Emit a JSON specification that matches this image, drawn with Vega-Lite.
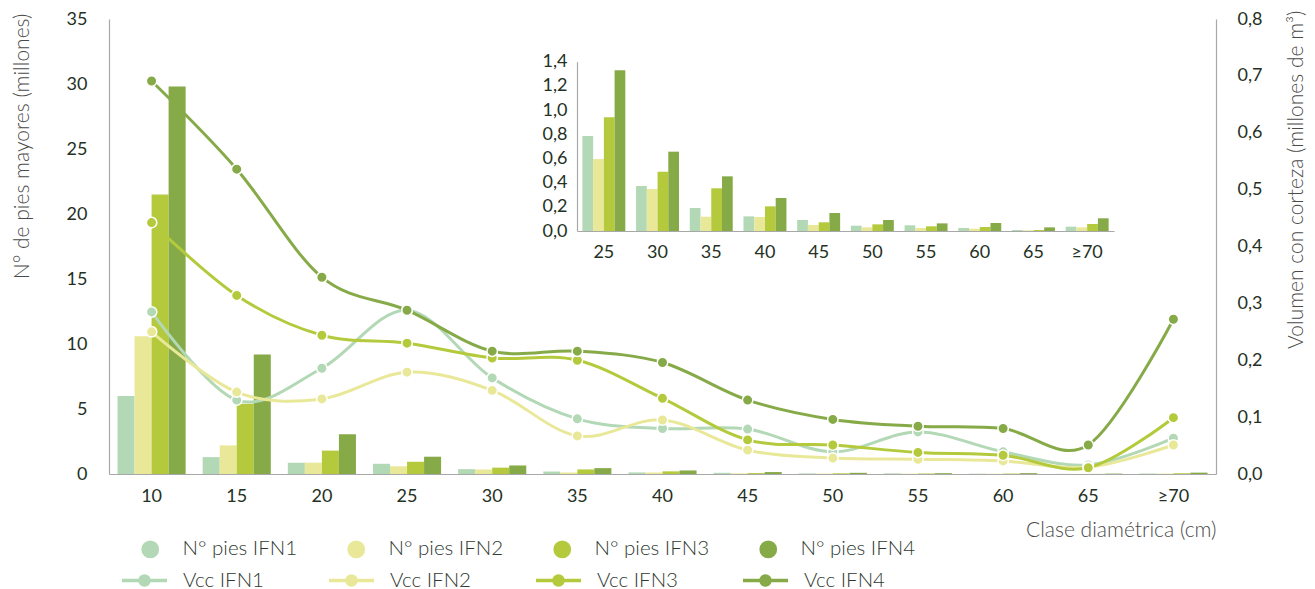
{
  "$schema": "https://vega.github.io/schema/vega-lite/v6.json",
  "width": 1107,
  "height": 455,
  "autosize": {"type": "none"},
  "padding": {"left": 109, "top": 19, "right": 99, "bottom": 115},
  "background": "white",
  "config": {
    "view": {"stroke": null},
    "font": "Lato",
    "axis": {
      "grid": false,
      "ticks": false,
      "domainColor": "#a8a8a8",
      "domainWidth": 1.2,
      "labelFont": "Lato",
      "labelFontSize": 18,
      "labelColor": "#243124",
      "titleFont": "Lato",
      "titleFontSize": 21,
      "titleFontWeight": 300,
      "titleColor": "#4a4a4a"
    },
    "legend": {
      "labelFont": "Lato",
      "labelFontSize": 20.5,
      "labelFontWeight": 300,
      "labelColor": "#2f3a2f",
      "padding": 0
    }
  },
  "datasets": {
    "d": [
      {"c": "10", "s": "IFN1", "pies": 6.0, "vcc": 0.285},
      {"c": "10", "s": "IFN2", "pies": 10.6, "vcc": 0.250},
      {"c": "10", "s": "IFN3", "pies": 21.5, "vcc": 0.442},
      {"c": "10", "s": "IFN4", "pies": 29.8, "vcc": 0.691},
      {"c": "15", "s": "IFN1", "pies": 1.3, "vcc": 0.130},
      {"c": "15", "s": "IFN2", "pies": 2.2, "vcc": 0.144},
      {"c": "15", "s": "IFN3", "pies": 5.4, "vcc": 0.314},
      {"c": "15", "s": "IFN4", "pies": 9.2, "vcc": 0.536},
      {"c": "20", "s": "IFN1", "pies": 0.87, "vcc": 0.186},
      {"c": "20", "s": "IFN2", "pies": 0.87, "vcc": 0.132},
      {"c": "20", "s": "IFN3", "pies": 1.8, "vcc": 0.244},
      {"c": "20", "s": "IFN4", "pies": 3.05, "vcc": 0.346},
      {"c": "25", "s": "IFN1", "pies": 0.785, "vcc": 0.288},
      {"c": "25", "s": "IFN2", "pies": 0.595, "vcc": 0.179},
      {"c": "25", "s": "IFN3", "pies": 0.94, "vcc": 0.230},
      {"c": "25", "s": "IFN4", "pies": 1.33, "vcc": 0.288},
      {"c": "30", "s": "IFN1", "pies": 0.372, "vcc": 0.169},
      {"c": "30", "s": "IFN2", "pies": 0.347, "vcc": 0.147},
      {"c": "30", "s": "IFN3", "pies": 0.49, "vcc": 0.204},
      {"c": "30", "s": "IFN4", "pies": 0.656, "vcc": 0.216},
      {"c": "35", "s": "IFN1", "pies": 0.19, "vcc": 0.097},
      {"c": "35", "s": "IFN2", "pies": 0.118, "vcc": 0.067},
      {"c": "35", "s": "IFN3", "pies": 0.353, "vcc": 0.200},
      {"c": "35", "s": "IFN4", "pies": 0.452, "vcc": 0.216},
      {"c": "40", "s": "IFN1", "pies": 0.121, "vcc": 0.080},
      {"c": "40", "s": "IFN2", "pies": 0.116, "vcc": 0.095},
      {"c": "40", "s": "IFN3", "pies": 0.204, "vcc": 0.133},
      {"c": "40", "s": "IFN4", "pies": 0.273, "vcc": 0.196},
      {"c": "45", "s": "IFN1", "pies": 0.091, "vcc": 0.079},
      {"c": "45", "s": "IFN2", "pies": 0.05, "vcc": 0.042},
      {"c": "45", "s": "IFN3", "pies": 0.072, "vcc": 0.060},
      {"c": "45", "s": "IFN4", "pies": 0.149, "vcc": 0.130},
      {"c": "50", "s": "IFN1", "pies": 0.044, "vcc": 0.039},
      {"c": "50", "s": "IFN2", "pies": 0.03, "vcc": 0.028},
      {"c": "50", "s": "IFN3", "pies": 0.055, "vcc": 0.051},
      {"c": "50", "s": "IFN4", "pies": 0.091, "vcc": 0.096},
      {"c": "55", "s": "IFN1", "pies": 0.047, "vcc": 0.074},
      {"c": "55", "s": "IFN2", "pies": 0.025, "vcc": 0.026},
      {"c": "55", "s": "IFN3", "pies": 0.039, "vcc": 0.038},
      {"c": "55", "s": "IFN4", "pies": 0.063, "vcc": 0.084},
      {"c": "60", "s": "IFN1", "pies": 0.025, "vcc": 0.039},
      {"c": "60", "s": "IFN2", "pies": 0.019, "vcc": 0.023},
      {"c": "60", "s": "IFN3", "pies": 0.033, "vcc": 0.033},
      {"c": "60", "s": "IFN4", "pies": 0.066, "vcc": 0.080},
      {"c": "65", "s": "IFN1", "pies": 0.008, "vcc": 0.016},
      {"c": "65", "s": "IFN2", "pies": 0.005, "vcc": 0.012},
      {"c": "65", "s": "IFN3", "pies": 0.008, "vcc": 0.011},
      {"c": "65", "s": "IFN4", "pies": 0.03, "vcc": 0.051},
      {"c": "≥70", "s": "IFN1", "pies": 0.036, "vcc": 0.063},
      {"c": "≥70", "s": "IFN2", "pies": 0.03, "vcc": 0.051},
      {"c": "≥70", "s": "IFN3", "pies": 0.058, "vcc": 0.099},
      {"c": "≥70", "s": "IFN4", "pies": 0.105, "vcc": 0.272}
    ]
  },
  "data": {"name": "d"},
  "layer": [
    {
      "layer": [
        {
          "mark": {"type": "bar"},
          "encoding": {
            "x": {
              "field": "c", "type": "nominal", "sort": null,
              "scale": {"paddingInner": 0.2, "paddingOuter": 0.1},
              "axis": {"title": "Clase diamétrica (cm)", "titleAnchor": "end", "titleAlign": "right", "labelAngle": 0, "labelPadding": 13, "titlePadding": 14}
            },
            "xOffset": {"field": "s", "type": "nominal", "sort": null},
            "y": {
              "field": "pies", "type": "quantitative",
              "scale": {"domain": [0, 35], "nice": false},
              "axis": {"title": "N° de pies mayores (millones)", "values": [0, 5, 10, 15, 20, 25, 30, 35], "labelPadding": 22, "titlePadding": 34, "titleAnchor": "end", "titleAlign": "right", "titleY": -6}
            },
            "fill": {
              "field": "s", "type": "nominal",
              "scale": {"domain": ["IFN1", "IFN2", "IFN3", "IFN4"], "range": ["#b3d8b6", "#e9e898", "#b4ca3c", "#86aa48"]},
              "legend": {
                "orient": "none", "legendX": 31, "legendY": 520, "direction": "horizontal", "columns": 4,
                "title": null, "symbolType": "circle", "symbolSize": 314, "symbolStrokeWidth": 0,
                "labelOffset": 22, "columnPadding": 48,
                "labelExpr": "'N° pies ' + datum.label"
              }
            }
          }
        },
        {
          "mark": {"type": "line", "interpolate": "cardinal", "strokeWidth": 3, "point": {"filled": true, "size": 110, "stroke": "white", "strokeWidth": 1.5}},
          "encoding": {
            "x": {"field": "c", "type": "nominal", "sort": null},
            "y": {
              "field": "vcc", "type": "quantitative",
              "scale": {"domain": [0, 0.8], "nice": false},
              "axis": {"orient": "right", "title": "Volumen con corteza (millones de m³)", "values": [0, 0.1, 0.2, 0.3, 0.4, 0.5, 0.6, 0.7, 0.8], "labelExpr": "replace(format(datum.value, '.1f'), '.', ',')", "labelPadding": 21, "titlePadding": 24, "titleAngle": 270, "titleAnchor": "end", "titleAlign": "right", "titleBaseline": "top", "titleY": -9}
            },
            "color": {
              "field": "s", "type": "nominal",
              "scale": {"domain": ["IFN4", "IFN3", "IFN2", "IFN1"], "range": ["#86aa48", "#b4ca3c", "#e9e898", "#b3d8b6"]},
              "legend": {
                "orient": "none", "legendX": 11, "legendY": 537, "direction": "horizontal", "columns": 4,
                "title": null,
                "values": ["IFN1", "IFN2", "IFN3", "IFN4"],
                "symbolType": "M-1,0H-0.2M0.2,0H1M0.2,0A0.2,0.2,0,1,1,-0.2,0A0.2,0.2,0,1,1,0.2,0ZM0.12,0A0.12,0.12,0,1,1,-0.12,0A0.12,0.12,0,1,1,0.12,0ZM0.04,0A0.04,0.04,0,1,1,-0.04,0A0.04,0.04,0,1,1,0.04,0Z",
                "symbolSize": 2025, "symbolStrokeWidth": 3.5,
                "labelOffset": 14, "columnPadding": 58,
                "labelExpr": "'Vcc ' + datum.label"
              }
            }
          }
        }
      ],
      "resolve": {"scale": {"y": "independent"}}
    },
    {
      "transform": [{"filter": "indexof(['10', '15', '20'], datum.c) < 0"}],
      "mark": {"type": "bar"},
      "encoding": {
        "x": {
          "field": "c", "type": "nominal", "sort": null,
          "scale": {"range": [468, 1005], "paddingInner": 0.2, "paddingOuter": 0.1},
          "axis": {"orient": "bottom", "offset": -243, "title": null, "labelAngle": 0, "labelPadding": 12}
        },
        "xOffset": {"field": "s", "type": "nominal", "sort": null},
        "y": {
          "field": "pies", "type": "quantitative",
          "scale": {"domain": [0, 1.4], "nice": false, "range": [212, 42.7]},
          "axis": {"orient": "left", "offset": -468, "title": null, "values": [0, 0.2, 0.4, 0.6, 0.8, 1.0, 1.2, 1.4], "labelExpr": "replace(format(datum.value, '.1f'), '.', ',')", "labelPadding": 10}
        },
        "fill": {
          "field": "s", "type": "nominal",
          "scale": {"domain": ["IFN1", "IFN2", "IFN3", "IFN4"], "range": ["#b3d8b6", "#e9e898", "#b4ca3c", "#86aa48"]},
          "legend": null
        }
      }
    }
  ],
  "resolve": {"scale": {"x": "independent", "y": "independent", "xOffset": "independent"}}
}
